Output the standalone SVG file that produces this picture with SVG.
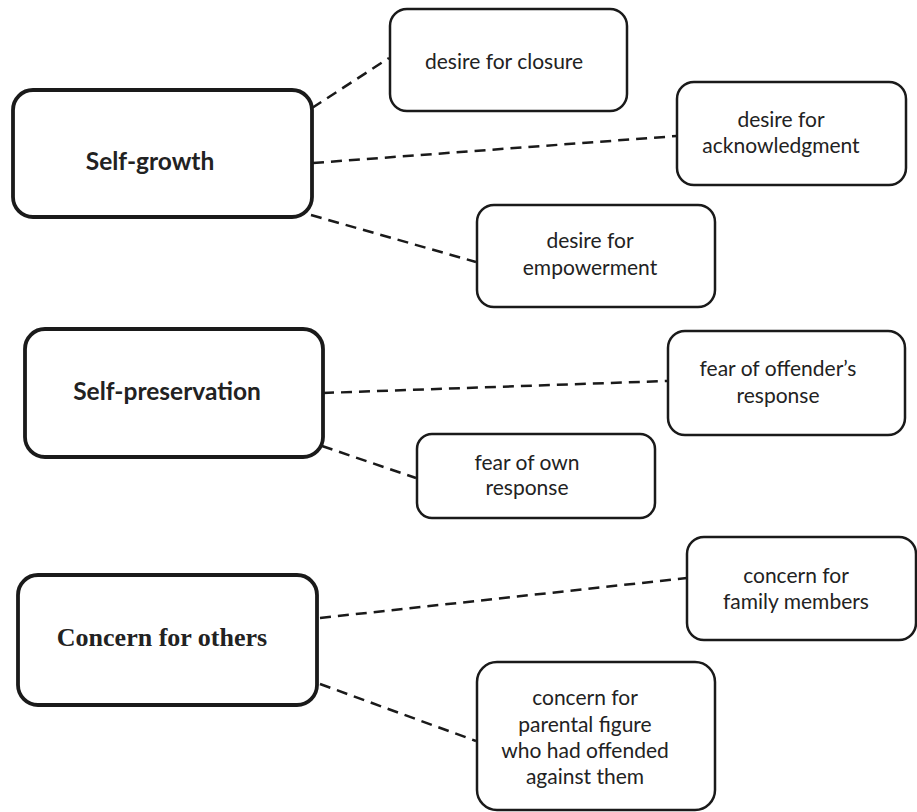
<svg xmlns="http://www.w3.org/2000/svg" width="917" height="812" viewBox="0 0 917 812">
<style>
  .main { fill: #fff; stroke: #1a1a1a; stroke-width: 3.8; }
  .sub { fill: #fff; stroke: #1a1a1a; stroke-width: 2.5; }
  .lbl { font-family: Lato, "Liberation Sans", sans-serif; font-weight: bold; font-size: 24.5px; fill: #222; text-anchor: middle; }
  .lblserif { font-family: "Liberation Serif", serif; font-weight: bold; font-size: 26px; fill: #222; text-anchor: middle; }
  .txt { font-family: Lato, "Liberation Sans", sans-serif; font-size: 21px; fill: #222; text-anchor: middle; }
  .conn line { stroke: #1a1a1a; stroke-width: 2.5; stroke-dasharray: 11 7; }
</style>
<rect width="917" height="812" fill="#fff"/>
<g id="connectors" class="conn">
  <line x1="312" y1="108" x2="389" y2="58"/>
  <line x1="313" y1="163" x2="677" y2="136"/>
  <line x1="311" y1="215" x2="476" y2="262"/>
  <line x1="323" y1="393" x2="668" y2="381"/>
  <line x1="322" y1="446" x2="416" y2="478"/>
  <line x1="320" y1="618" x2="687" y2="578"/>
  <line x1="320" y1="684" x2="476" y2="741"/>
</g>
<g id="self-growth">
  <rect class="main" x="13" y="90" width="299" height="127" rx="20"/>
  <text class="lbl" x="150" y="170">Self-growth</text>
</g>
<g id="desire-closure">
  <rect class="sub" x="390" y="9" width="237" height="102" rx="17"/>
  <text class="txt" x="425" y="69" style="text-anchor:start">desire for closure</text>
</g>
<g id="desire-acknowledgment">
  <rect class="sub" x="677" y="82" width="229" height="103" rx="17"/>
  <text class="txt" x="781" y="127">desire for</text>
  <text class="txt" x="781" y="153">acknowledgment</text>
</g>
<g id="desire-empowerment">
  <rect class="sub" x="477" y="205" width="238" height="102" rx="17"/>
  <text class="txt" x="590" y="248">desire for</text>
  <text class="txt" x="590" y="275">empowerment</text>
</g>
<g id="self-preservation">
  <rect class="main" x="25" y="329" width="298" height="128" rx="20"/>
  <text class="lbl" x="167" y="400">Self-preservation</text>
</g>
<g id="fear-offender">
  <rect class="sub" x="668" y="331" width="237" height="104" rx="17"/>
  <text class="txt" x="778" y="376">fear of offender’s</text>
  <text class="txt" x="778" y="403">response</text>
</g>
<g id="fear-own">
  <rect class="sub" x="417" y="434" width="238" height="84" rx="15"/>
  <text class="txt" x="527" y="470">fear of own</text>
  <text class="txt" x="527" y="495">response</text>
</g>
<g id="concern-others">
  <rect class="main" x="18" y="575" width="299" height="130" rx="20"/>
  <text class="lblserif" x="162" y="646">Concern for others</text>
</g>
<g id="concern-family">
  <rect class="sub" x="687" y="537" width="229" height="103" rx="17"/>
  <text class="txt" x="796" y="583">concern for</text>
  <text class="txt" x="796" y="609">family members</text>
</g>
<g id="concern-parental">
  <rect class="sub" x="477" y="662" width="238" height="148" rx="20"/>
  <text class="txt" x="585" y="705">concern for</text>
  <text class="txt" x="585" y="732">parental figure</text>
  <text class="txt" x="585" y="758">who had offended</text>
  <text class="txt" x="585" y="784">against them</text>
</g>
</svg>
